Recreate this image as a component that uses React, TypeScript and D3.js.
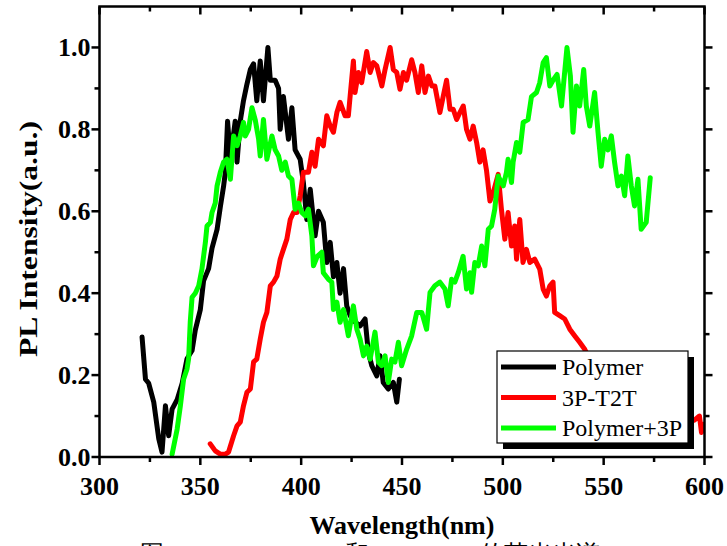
import React from "react";
import * as d3 from "d3";

const polymerX = [321.1,322.8,324.4,326.9,329.4,331.0,332.7,334.3,336.0,338.5,341.0,343.4,345.9,347.5,350.0,351.6,354.1,355.8,358.3,359.9,361.5,362.4,363.5,364.9,367.3,368.2,369.8,371.4,373.1,374.8,376.4,378.0,379.7,381.3,383.5,384.7,387.1,388.8,389.6,391.2,393.7,395.4,397.0,399.5,401.1,402.8,404.5,406.9,408.6,411.0,412.7,414.4,416.0,417.7,419.3,421.0,422.6,424.3,426.7,429.2,431.7,433.3,435.0,437.5,439.1,440.7,443.2,445.7,447.4,448.7];
const polymerY = [0.293,0.19,0.18,0.134,0.044,0.012,0.125,0.052,0.117,0.14,0.18,0.24,0.26,0.31,0.36,0.43,0.46,0.51,0.556,0.61,0.66,0.695,0.82,0.73,0.82,0.72,0.82,0.87,0.91,0.946,0.96,0.87,0.967,0.87,1.0,0.92,0.92,0.9,0.8,0.88,0.776,0.853,0.75,0.727,0.67,0.58,0.654,0.54,0.6,0.573,0.475,0.524,0.44,0.475,0.40,0.46,0.369,0.345,0.33,0.32,0.337,0.256,0.223,0.198,0.247,0.182,0.166,0.182,0.134,0.19];

const t2tX = [354.9,357.4,359.9,362.4,364.0,366.5,368.2,369.8,371.4,373.1,374.8,376.4,378.0,379.7,381.3,383.0,384.7,386.3,388.0,389.6,391.2,392.9,394.6,396.2,397.9,399.5,401.1,403.6,405.3,406.9,408.6,411.0,412.7,414.4,416.0,417.7,419.3,421.8,423.4,424.3,425.9,426.7,428.4,430.0,432.5,434.2,435.8,437.5,440.0,441.6,444.1,445.7,447.4,449.0,450.7,452.3,454.8,456.4,458.1,459.8,461.4,463.1,464.8,466.3,468.8,470.5,472.1,473.8,475.4,477.1,478.7,480.4,482.0,483.7,485.3,487.0,488.6,490.2,491.9,493.6,495.2,497.7,499.3,501.0,502.6,504.3,505.9,506.8,508.4,510.0,511.7,513.4,515.8,518.3,520.0,521.6,523.3,524.9,525.7,528.2,530.7,533.2,535.6,538.1,540.6,542.2,545,550,555,560,565,570,575,580,585,590,595,597.5,598.5,599.5];
const t2tY = [0.032,0.015,0.007,0.007,0.012,0.052,0.076,0.085,0.125,0.158,0.166,0.232,0.239,0.288,0.329,0.353,0.418,0.427,0.442,0.483,0.507,0.532,0.58,0.597,0.597,0.637,0.695,0.695,0.744,0.71,0.776,0.76,0.833,0.808,0.793,0.841,0.866,0.833,0.833,0.882,0.967,0.89,0.939,0.914,0.99,0.939,0.963,0.955,0.906,0.946,1.0,0.946,0.939,0.898,0.939,0.92,0.97,0.939,0.89,0.955,0.89,0.93,0.906,0.906,0.841,0.882,0.92,0.849,0.849,0.824,0.841,0.857,0.80,0.776,0.808,0.768,0.72,0.75,0.70,0.625,0.645,0.69,0.605,0.532,0.597,0.515,0.564,0.483,0.58,0.475,0.507,0.475,0.483,0.459,0.41,0.393,0.418,0.427,0.353,0.345,0.337,0.312,0.296,0.28,0.263,0.247,0.23,0.21,0.19,0.17,0.16,0.14,0.13,0.12,0.11,0.10,0.09,0.10,0.06,0.08];

const mixX = [336.0,338.5,340.1,341.7,343.4,344.2,345.0,345.9,347.5,349.2,350.8,352.5,353.3,355.0,355.8,357.4,358.3,359.9,361.5,363.2,364.9,366.5,368.2,369.8,371.4,372.3,373.9,375.6,377.2,378.9,379.7,381.3,383.0,385.5,387.1,388.8,390.4,392.1,393.7,395.4,397.0,398.7,400.3,402.0,403.6,405.3,406.1,408.0,410.2,411.0,413.5,415.2,416.0,417.7,419.3,421.0,423.4,425.9,427.6,429.2,430.9,432.5,434.2,436.6,438.3,439.9,441.6,443.2,444.9,446.5,448.2,449.8,452.3,454.8,457.3,459.8,462.2,463.9,466.3,468.8,471.3,472.9,474.6,476.2,477.9,480.3,482.0,483.7,484.5,486.1,487.8,489.5,491.1,492.8,494.4,496.0,497.7,500.2,501.8,502.6,504.3,505.1,506.8,508.4,510.1,512.5,514.2,516.7,518.3,520.0,521.6,523.3,524.9,526.9,529.1,531.8,533.5,534.8,536.5,538.1,540.1,541.4,543.1,545.5,547.2,548.8,550.5,552.1,553.8,555.4,557.1,558.8,560.4,562.0,563.7,565.3,567.0,568.6,571.1,573.1];
const mixY = [0.007,0.068,0.125,0.19,0.215,0.24,0.33,0.39,0.40,0.418,0.459,0.524,0.564,0.573,0.597,0.62,0.662,0.695,0.72,0.727,0.678,0.784,0.76,0.784,0.817,0.784,0.80,0.853,0.824,0.776,0.735,0.824,0.727,0.784,0.75,0.735,0.70,0.72,0.686,0.678,0.605,0.62,0.597,0.589,0.605,0.54,0.467,0.49,0.50,0.45,0.434,0.427,0.36,0.378,0.329,0.36,0.296,0.369,0.312,0.288,0.247,0.271,0.239,0.305,0.232,0.223,0.247,0.182,0.239,0.232,0.28,0.223,0.263,0.296,0.353,0.353,0.312,0.402,0.418,0.427,0.41,0.369,0.434,0.427,0.45,0.49,0.41,0.45,0.402,0.475,0.467,0.515,0.467,0.556,0.564,0.605,0.686,0.662,0.695,0.727,0.67,0.72,0.768,0.744,0.817,0.824,0.88,0.89,0.914,0.963,0.975,0.906,0.92,0.934,0.857,1.0,0.93,0.793,0.906,0.857,0.946,0.857,0.808,0.89,0.793,0.71,0.776,0.75,0.784,0.72,0.662,0.686,0.638,0.735,0.662,0.613,0.678,0.556,0.573,0.682];

const seriesNames = ["Polymer", "3P-T2T", "Polymer+3P"];
const seriesColors = ["#000000", "#ff0000", "#00ff00"];
const xTicks = [300, 350, 400, 450, 500, 550, 600];
const xMinor = [325, 375, 425, 475, 525, 575];
const yTicks = [0, 0.2, 0.4, 0.6, 0.8, 1.0];
const yMinor = [0.1, 0.3, 0.5, 0.7, 0.9];

const W = 727, H = 546;
const L = 99.5, R = 704.5, T = 6.5, B = 457;
const FONT = '"Liberation Serif", "Times New Roman", Times, serif';

export default function App() {
  const x = d3.scaleLinear().domain([300, 600]).range([L, R]);
  const y = d3.scaleLinear().domain([0, 1.1]).range([B, T]);
  const line = d3.line<[number, number]>().x(d => x(d[0])).y(d => y(d[1]));
  const data: [number, number][][] = [
    polymerX.map((v, i) => [v, polymerY[i]] as [number, number]),
    t2tX.map((v, i) => [v, t2tY[i]] as [number, number]),
    mixX.map((v, i) => [v, mixY[i]] as [number, number]),
  ];
  const lgX = 497, lgY = 351, lgW = 191, lgH = 92;
  const ts = { fontFamily: FONT } as React.CSSProperties;
  return (
    <svg width={W} height={H} style={{ position: "absolute", left: 0, top: 0, background: "#fff", fontFamily: FONT }}>
      <rect x={0} y={0} width={W} height={H} fill="#fff" />
      <defs>
        <clipPath id="plot"><rect x={L} y={T} width={R - L} height={B - T} /></clipPath>
      </defs>
      <g clipPath="url(#plot)">
        {data.map((d, i) => (
          <path key={i} d={line(d) || ""} fill="none" stroke={seriesColors[i]} strokeWidth={5} strokeLinejoin="round" strokeLinecap="round" />
        ))}
      </g>
      <rect x={L} y={T} width={R - L} height={B - T} fill="none" stroke="#000" strokeWidth={2.5} />
      {xTicks.map(t => (
        <g key={"xt" + t}>
          <line x1={x(t)} x2={x(t)} y1={B} y2={B + 8} stroke="#000" strokeWidth={2.5} />
          <line x1={x(t)} x2={x(t)} y1={T} y2={T + 8} stroke="#000" strokeWidth={2.5} />
          <text x={x(t)} y={495} textAnchor="middle" fontSize={26} fontWeight="bold" style={ts}>{t}</text>
        </g>
      ))}
      {xMinor.map(t => (
        <g key={"xm" + t}>
          <line x1={x(t)} x2={x(t)} y1={B} y2={B + 5} stroke="#000" strokeWidth={2.5} />
          <line x1={x(t)} x2={x(t)} y1={T} y2={T + 5} stroke="#000" strokeWidth={2.5} />
        </g>
      ))}
      {yTicks.map(t => (
        <g key={"yt" + t}>
          <line x1={L} x2={L - 8} y1={y(t)} y2={y(t)} stroke="#000" strokeWidth={2.5} />
          <line x1={R} x2={R + 8} y1={y(t)} y2={y(t)} stroke="#000" strokeWidth={2.5} />
          <text x={L - 9} y={y(t) + 9} textAnchor="end" fontSize={26} fontWeight="bold" style={ts}>{t.toFixed(1)}</text>
        </g>
      ))}
      {yMinor.map(t => (
        <g key={"ym" + t}>
          <line x1={L} x2={L - 5} y1={y(t)} y2={y(t)} stroke="#000" strokeWidth={2.5} />
          <line x1={R} x2={R + 5} y1={y(t)} y2={y(t)} stroke="#000" strokeWidth={2.5} />
        </g>
      ))}
      <text x={402} y={534} textAnchor="middle" fontSize={26} fontWeight="bold" style={ts}>Wavelength(nm)</text>
      <text transform="translate(37,239) rotate(-90)" textAnchor="middle" fontSize={26} fontWeight="bold" textLength={236} lengthAdjust="spacingAndGlyphs" style={ts}>PL Intensity(a.u.)</text>
      <rect x={lgX + 6} y={lgY + 6} width={lgW} height={lgH} fill="#000" />
      <rect x={lgX} y={lgY} width={lgW} height={lgH} fill="#fff" stroke="#000" strokeWidth={1.2} />
      {seriesNames.map((n, i) => (
        <g key={n}>
          <line x1={lgX + 4} x2={lgX + 59} y1={lgY + 16 + i * 30.5} y2={lgY + 16 + i * 30.5} stroke={seriesColors[i]} strokeWidth={5} />
          <text x={lgX + 65} y={lgY + 24 + i * 30.5} fontSize={24} style={ts}>{n}</text>
        </g>
      ))}
      <text x={140} y={562} fontSize={24} style={ts}>图4</text>
      <text x={232} y={562} fontSize={24} fontWeight="bold" style={ts}>Polymer</text>
      <text x={345} y={562} fontSize={24} style={ts}>和</text>
      <text x={385} y={562} fontSize={24} fontWeight="bold" style={ts}>3P-T2T</text>
      <text x={480} y={562} fontSize={24} style={ts}>的荧光光谱</text>
    </svg>
  );
}
